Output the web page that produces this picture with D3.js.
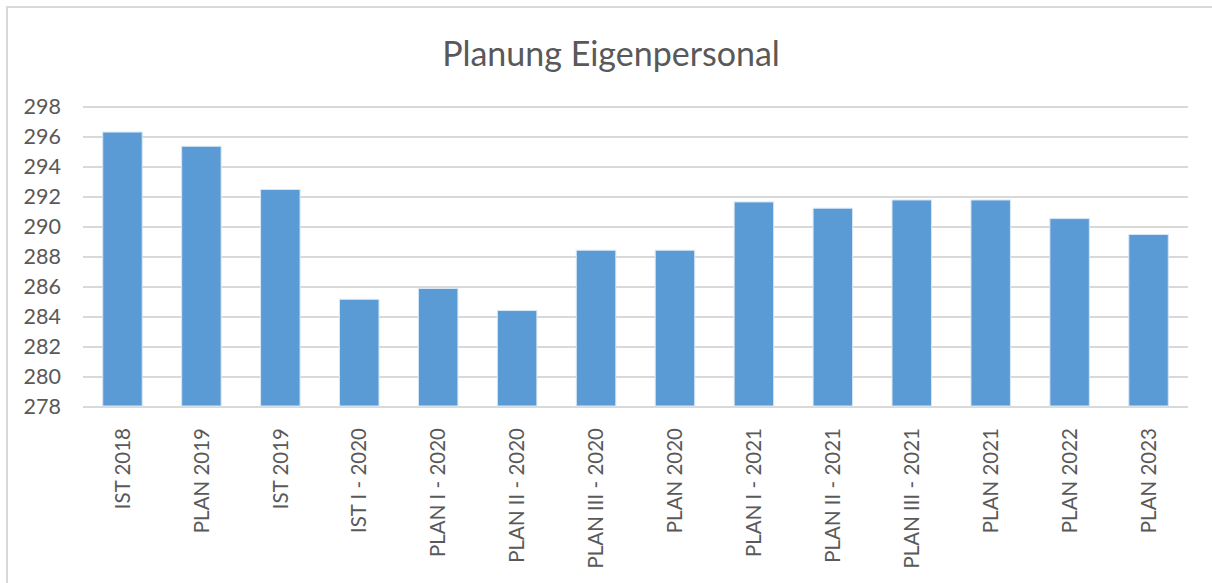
<!DOCTYPE html>
<html lang="de">
<head>
    <meta charset="UTF-8">
    <title>Planung Eigenpersonal</title>
    <style>
        body {
            margin: 0;
            padding: 0;
            background-color: #fff;
        }
        svg {
            display: block;
            font-family: "Lato", "Open Sans", sans-serif;
        }
        .grid line {
            stroke: #d9d9d9;
            stroke-width: 2px;
        }
        .bar {
            fill: #5b9bd5;
            stroke: #d6e6f5;
            stroke-width: 1px;
        }
        .tick text {
            fill: #595959;
        }
    </style>
</head>
<body>
    <svg id="chart" width="1212" height="583"></svg>

    <script src="https://d3js.org/d3.v7.min.js"></script>
    <script>
        const categories = ['IST 2018', 'PLAN 2019', 'IST 2019', 'IST I - 2020', 'PLAN I - 2020',
            'PLAN II - 2020', 'PLAN III - 2020', 'PLAN 2020', 'PLAN I - 2021', 'PLAN II - 2021',
            'PLAN III - 2021', 'PLAN 2021', 'PLAN 2022', 'PLAN 2023'];
        const values = [296.33, 295.38, 292.5, 285.18, 285.9, 284.43, 288.45, 288.45,
            291.67, 291.25, 291.8, 291.8, 290.56, 289.5];
        const yTicks = [278, 280, 282, 284, 286, 288, 290, 292, 294, 296, 298];

        const svg = d3.select('#chart');
        const margin = { left: 83, right: 24, top: 107, bottom: 176 };
        const width = 1212, height = 583;

        // chart frame
        svg.append('rect')
            .attr('x', 7).attr('y', 7)
            .attr('width', 1230).attr('height', 600)
            .attr('fill', 'none')
            .attr('stroke', '#d9d9d9')
            .attr('stroke-width', 2);

        svg.append('text')
            .attr('x', 611)
            .attr('y', 66)
            .attr('text-anchor', 'middle')
            .attr('font-size', 34)
            .attr('fill', '#595959')
            .text('Planung Eigenpersonal');

        const x = d3.scaleBand()
            .domain(categories)
            .range([margin.left, width - margin.right])
            .paddingInner(0.5)
            .paddingOuter(0.25);

        const y = d3.scaleLinear()
            .domain([278, 298])
            .range([height - margin.bottom, margin.top]);

        // gridlines
        svg.append('g')
            .attr('class', 'grid')
            .selectAll('line')
            .data(yTicks)
            .enter().append('line')
            .attr('x1', margin.left)
            .attr('x2', width - margin.right)
            .attr('y1', d => y(d))
            .attr('y2', d => y(d));

        // y axis labels
        const yAxis = svg.append('g')
            .attr('transform', `translate(${margin.left - 22},0)`)
            .call(d3.axisLeft(y).tickValues(yTicks).tickSize(0).tickPadding(0));
        yAxis.select('.domain').remove();
        yAxis.selectAll('text').attr('font-size', 21.5).attr('font-family', 'Lato');

        svg.selectAll('.bar')
            .data(values)
            .enter().append('rect')
            .attr('class', 'bar')
            .attr('x', (d, i) => x(categories[i]))
            .attr('width', x.bandwidth())
            .attr('y', d => y(d))
            .attr('height', d => y(278) - y(d) - 1);

        // x axis labels, rotated
        const xAxis = svg.append('g')
            .attr('transform', `translate(0,${height - margin.bottom})`)
            .call(d3.axisBottom(x).tickSize(0).tickPadding(0));
        xAxis.select('.domain').remove();
        xAxis.selectAll('text')
            .attr('font-size', 20.5)
            .attr('font-family', 'Lato')
            .attr('text-anchor', 'end')
            .attr('dy', '0.35em')
            .attr('transform', 'translate(0,21) rotate(-90)');
    </script>
</body>
</html>
